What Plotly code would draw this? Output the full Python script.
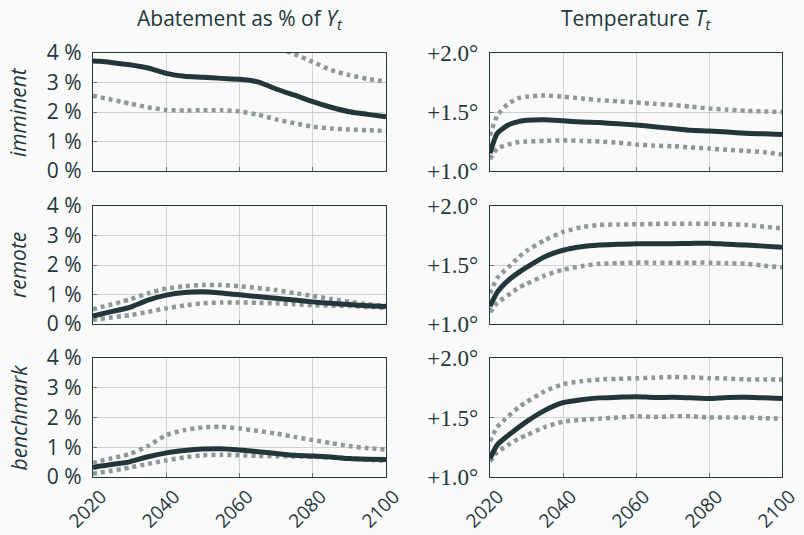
import plotly.graph_objects as go

# Simulation years shared by every series
YEARS = [2020, 2022, 2025, 2028, 2030, 2035, 2040, 2045, 2050, 2055,
         2060, 2065, 2070, 2075, 2080, 2085, 2090, 2095, 2100]

SCENARIOS = ["imminent", "remote", "benchmark"]

# Abatement as % of output: median and band (upper / lower)
abate_imminent_mid = [3.73, 3.72, 3.68, 3.63, 3.60, 3.49, 3.31, 3.21, 3.18, 3.14,
                      3.11, 3.02, 2.78, 2.57, 2.35, 2.16, 2.01, 1.92, 1.84]
abate_imminent_hi = [5.60, 5.60, 5.50, 5.40, 5.35, 5.20, 5.00, 4.90, 4.80, 4.70,
                     4.60, 4.40, 4.20, 3.96, 3.70, 3.42, 3.25, 3.12, 3.03]
abate_imminent_lo = [2.55, 2.50, 2.42, 2.34, 2.29, 2.16, 2.07, 2.05, 2.06, 2.06,
                     2.02, 1.91, 1.75, 1.62, 1.50, 1.44, 1.41, 1.38, 1.36]

abate_remote_mid = [0.27, 0.33, 0.42, 0.50, 0.56, 0.81, 0.98, 1.07, 1.09, 1.05,
                    0.99, 0.93, 0.87, 0.81, 0.75, 0.70, 0.66, 0.62, 0.59]
abate_remote_hi = [0.50, 0.57, 0.66, 0.76, 0.83, 1.04, 1.20, 1.28, 1.32, 1.32,
                   1.28, 1.22, 1.15, 1.05, 0.95, 0.85, 0.75, 0.67, 0.61]
abate_remote_lo = [0.14, 0.17, 0.22, 0.27, 0.30, 0.41, 0.53, 0.63, 0.70, 0.73,
                   0.73, 0.72, 0.70, 0.67, 0.64, 0.62, 0.61, 0.58, 0.55]

abate_benchmark_mid = [0.32, 0.37, 0.42, 0.47, 0.51, 0.68, 0.81, 0.89, 0.94, 0.95,
                       0.91, 0.85, 0.79, 0.73, 0.71, 0.67, 0.62, 0.60, 0.59]
abate_benchmark_hi = [0.47, 0.54, 0.62, 0.71, 0.77, 1.04, 1.41, 1.58, 1.67, 1.69,
                      1.63, 1.55, 1.46, 1.35, 1.24, 1.14, 1.04, 0.97, 0.92]
abate_benchmark_lo = [0.11, 0.15, 0.21, 0.27, 0.32, 0.44, 0.56, 0.66, 0.73, 0.75,
                      0.73, 0.71, 0.70, 0.69, 0.68, 0.65, 0.62, 0.58, 0.54]

# Temperature anomaly (deg C): median and band
temp_imminent_mid = [1.15, 1.32, 1.39, 1.42, 1.43, 1.435, 1.425, 1.415, 1.41, 1.40,
                     1.39, 1.375, 1.36, 1.345, 1.34, 1.33, 1.32, 1.315, 1.31]
temp_imminent_hi = [1.30, 1.47, 1.57, 1.62, 1.63, 1.64, 1.63, 1.615, 1.60, 1.59,
                    1.58, 1.57, 1.56, 1.545, 1.53, 1.52, 1.51, 1.505, 1.50]
temp_imminent_lo = [1.10, 1.19, 1.225, 1.245, 1.25, 1.255, 1.26, 1.255, 1.25, 1.24,
                    1.225, 1.215, 1.21, 1.20, 1.19, 1.18, 1.17, 1.16, 1.14]

temp_remote_mid = [1.15, 1.27, 1.37, 1.44, 1.48, 1.57, 1.625, 1.655, 1.67, 1.675,
                   1.68, 1.68, 1.68, 1.683, 1.685, 1.675, 1.67, 1.66, 1.65]
temp_remote_hi = [1.26, 1.39, 1.48, 1.57, 1.62, 1.71, 1.78, 1.82, 1.84, 1.843,
                  1.845, 1.848, 1.85, 1.85, 1.85, 1.845, 1.84, 1.825, 1.81]
temp_remote_lo = [1.10, 1.18, 1.245, 1.31, 1.34, 1.41, 1.46, 1.49, 1.51, 1.515,
                  1.52, 1.52, 1.52, 1.52, 1.52, 1.515, 1.51, 1.495, 1.48]

temp_benchmark_mid = [1.155, 1.27, 1.35, 1.42, 1.465, 1.56, 1.625, 1.65, 1.665, 1.67,
                      1.675, 1.668, 1.67, 1.665, 1.66, 1.668, 1.67, 1.665, 1.66]
temp_benchmark_hi = [1.30, 1.42, 1.51, 1.59, 1.63, 1.72, 1.78, 1.805, 1.82, 1.825,
                     1.83, 1.835, 1.84, 1.838, 1.83, 1.828, 1.82, 1.82, 1.82]
temp_benchmark_lo = [1.13, 1.21, 1.27, 1.325, 1.35, 1.42, 1.465, 1.48, 1.49, 1.50,
                     1.51, 1.505, 1.51, 1.51, 1.50, 1.50, 1.50, 1.495, 1.49]

ABATE = {
    "imminent": (abate_imminent_mid, abate_imminent_hi, abate_imminent_lo),
    "remote": (abate_remote_mid, abate_remote_hi, abate_remote_lo),
    "benchmark": (abate_benchmark_mid, abate_benchmark_hi, abate_benchmark_lo),
}
TEMP = {
    "imminent": (temp_imminent_mid, temp_imminent_hi, temp_imminent_lo),
    "remote": (temp_remote_mid, temp_remote_hi, temp_remote_lo),
    "benchmark": (temp_benchmark_mid, temp_benchmark_hi, temp_benchmark_lo),
}

X_TICKS = [2020, 2040, 2060, 2080, 2100]
ABATE_TICKS = [0, 1, 2, 3, 4]
ABATE_LABELS = ["0 %", "1 %", "2 %", "3 %", "4 %"]
TEMP_TICKS = [1.0, 1.5, 2.0]
TEMP_LABELS = ["+1.0°", "+1.5°", "+2.0°"]

INK = "#23373b"
BAND = "#8e9898"
BG = "#fafafa"
SANS = "Open Sans"
SERIF = "Liberation Serif"

W, H = 804, 535
LEFT_X = (93 / W, 386 / W)
RIGHT_X = (490 / W, 782 / W)
ROWS_PX = [(53, 171), (206, 324), (358, 477)]
ROWS = [(1 - b / H, 1 - t / H) for t, b in ROWS_PX]

fig = go.Figure()

axis_common = dict(
    showline=True, mirror=True, linecolor=INK, linewidth=1.3,
    showgrid=True, gridcolor="#cfd2d2", gridwidth=1,
    ticks="inside", ticklen=4, tickcolor="#6a7476", tickwidth=1,
    zeroline=False, fixedrange=True, automargin=False,
)

idx = 0
for r, name in enumerate(SCENARIOS):
    for c, (data, yticks, ylabels, yrange, yfont, ysize) in enumerate([
        (ABATE[name], ABATE_TICKS, ABATE_LABELS, [0, 4], SANS, 21),
        (TEMP[name], TEMP_TICKS, TEMP_LABELS, [1.0, 2.0], SERIF, 23),
    ]):
        idx += 1
        sfx = "" if idx == 1 else str(idx)
        xa, ya = "x" + sfx, "y" + sfx
        mid, hi, lo = data
        for vals in (hi, lo):
            fig.add_trace(go.Scatter(
                x=YEARS, y=vals, mode="lines", xaxis=xa, yaxis=ya,
                line=dict(color=BAND, width=4.5, dash="4px,4px", shape="spline",
                          smoothing=0.6),
                showlegend=False, hoverinfo="skip"))
        fig.add_trace(go.Scatter(
            x=YEARS, y=mid, mode="lines", xaxis=xa, yaxis=ya,
            line=dict(color=INK, width=5, shape="spline", smoothing=0.6),
            showlegend=False))

        last_row = r == len(SCENARIOS) - 1
        fig.update_layout(**{
            "xaxis" + sfx: dict(
                axis_common, domain=LEFT_X if c == 0 else RIGHT_X,
                range=[2020, 2100], anchor=ya, tickvals=X_TICKS,
                showticklabels=last_row, tickangle=-45,
                ticklabelshift=8, ticklabelstandoff=0,
                tickfont=dict(family=SANS, size=19, color=INK)),
            "yaxis" + sfx: dict(
                axis_common, domain=ROWS[r], range=yrange, anchor=xa,
                tickvals=yticks, ticktext=ylabels, ticklabelstandoff=6,
                tickfont=dict(family=yfont, size=ysize, color=INK)),
        })

annotations = [
    dict(text="Abatement as % of <i>Y</i><sub><i>t</i></sub>", x=240 / W, y=1 - 19 / H,
         xref="paper", yref="paper", xanchor="center", yanchor="middle",
         showarrow=False, font=dict(family=SANS, size=21, color=INK)),
    dict(text="Temperature <i>T</i><sub><i>t</i></sub>", x=636 / W, y=1 - 19 / H,
         xref="paper", yref="paper", xanchor="center", yanchor="middle",
         showarrow=False, font=dict(family=SANS, size=21, color=INK)),
]
for r, name in enumerate(SCENARIOS):
    t, b = ROWS_PX[r]
    annotations.append(dict(
        text=f"<i>{name}</i>", x=18 / W, y=1 - (t + b) / 2 / H,
        xref="paper", yref="paper", xanchor="center", yanchor="middle",
        showarrow=False, textangle=-90,
        font=dict(family=SANS, size=21, color=INK)))

fig.update_layout(
    width=W, height=H, margin=dict(l=0, r=0, t=0, b=0, autoexpand=False),
    paper_bgcolor=BG, plot_bgcolor=BG,
    annotations=annotations, showlegend=False,
)

fig.write_html("out.html")
